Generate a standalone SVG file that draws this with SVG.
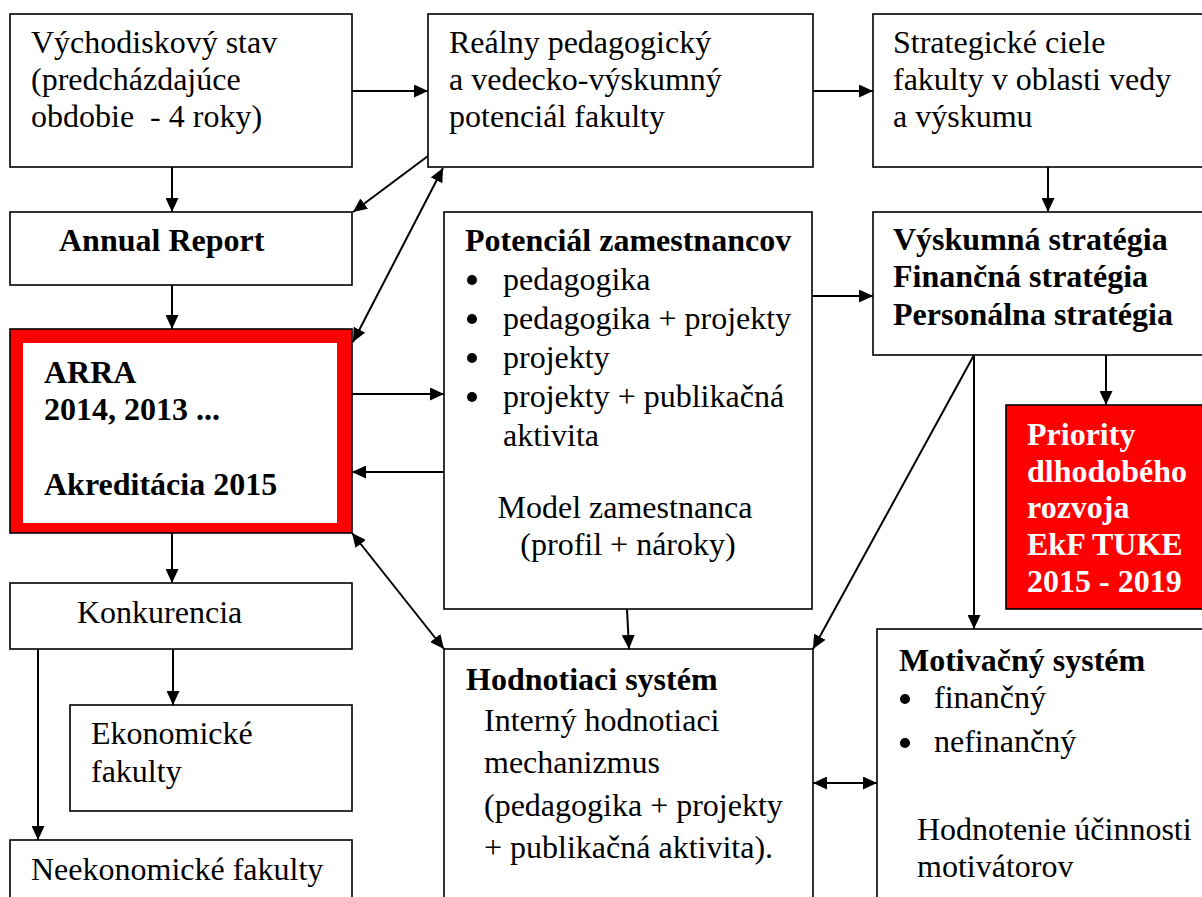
<svg xmlns="http://www.w3.org/2000/svg" width="1202" height="897" viewBox="0 0 1202 897">
<style>
  .box { fill: #ffffff; stroke: #000000; stroke-width: 1.6; }
  .red { fill: #ff0000; stroke: #000000; stroke-width: 1.6; }
  text { font-family: 'Liberation Serif', 'Times New Roman', 'DejaVu Serif', serif; font-size: 32px; fill: #000000; }
  .b { font-weight: bold; }
  .w { fill: #ffffff; }
  .c { text-anchor: middle; }
  .con { fill: none; stroke: #000000; stroke-width: 2; marker-end: url(#ah); }
  .dbl { marker-start: url(#ah); }
</style>
<defs>
  <marker id="ah" markerUnits="userSpaceOnUse" viewBox="0 0 14 13" refX="14" refY="6.5" markerWidth="14" markerHeight="13" orient="auto-start-reverse">
    <path d="M0,0 L14,6.5 L0,13 z" fill="#000000"/>
  </marker>
</defs>
<rect width="1202" height="897" fill="#ffffff"/>

<g id="vychodiskovy" font-family="Liberation Serif, serif">
  <rect class="box" x="10" y="14" width="342" height="153"/>
  <text x="31" y="53">Východiskový stav</text>
  <text x="31" y="90">(predcházdajúce</text>
  <text x="31" y="127" xml:space="preserve">obdobie  - 4 roky)</text>
</g>
<g id="realny">
  <rect class="box" x="428" y="14" width="385" height="153"/>
  <text x="449" y="53">Reálny pedagogický</text>
  <text x="449" y="90">a vedecko-výskumný</text>
  <text x="449" y="127">potenciál fakulty</text>
</g>
<g id="strategicke">
  <rect class="box" x="873" y="14" width="340" height="153"/>
  <text x="893" y="53">Strategické ciele</text>
  <text x="893" y="90">fakulty v oblasti vedy</text>
  <text x="893" y="127">a výskumu</text>
</g>
<g id="annual">
  <rect class="box" x="10" y="212" width="342" height="73"/>
  <text class="b" x="59" y="251">Annual Report</text>
</g>
<g id="arra">
  <rect class="red" x="10" y="329" width="342" height="204"/>
  <rect x="23" y="343" width="314" height="180" fill="#ffffff"/>
  <text class="b" x="44" y="383">ARRA</text>
  <text class="b" x="44" y="420">2014, 2013 ...</text>
  <text class="b" x="44" y="495">Akreditácia 2015</text>
</g>
<g id="konkurencia">
  <rect class="box" x="10" y="583" width="342" height="66"/>
  <text x="77" y="623">Konkurencia</text>
</g>
<g id="ekonomicke">
  <rect class="box" x="70" y="705" width="282" height="106"/>
  <text x="91" y="744">Ekonomické</text>
  <text x="91" y="782">fakulty</text>
</g>
<g id="neekonomicke">
  <rect class="box" x="10" y="840" width="342" height="70"/>
  <text x="31" y="880">Neekonomické fakulty</text>
</g>
<g id="potencial">
  <rect class="box" x="444" y="212" width="368" height="397"/>
  <text class="b" x="465" y="251">Potenciál zamestnancov</text>
  <circle cx="472" cy="280" r="5"/>
  <circle cx="472" cy="319" r="5"/>
  <circle cx="472" cy="358" r="5"/>
  <circle cx="472" cy="397" r="5"/>
  <text x="503" y="290">pedagogika</text>
  <text x="503" y="329">pedagogika + projekty</text>
  <text x="503" y="368">projekty</text>
  <text x="503" y="407">projekty + publikačná</text>
  <text x="503" y="446">aktivita</text>
  <text class="c" x="625" y="518">Model zamestnanca</text>
  <text class="c" x="628" y="555">(profil + nároky)</text>
</g>
<g id="vyskumna">
  <rect class="box" x="873" y="212" width="340" height="143"/>
  <text class="b" x="893" y="250">Výskumná stratégia</text>
  <text class="b" x="893" y="287">Finančná stratégia</text>
  <text class="b" x="893" y="325">Personálna stratégia</text>
</g>
<g id="priority">
  <rect class="red" x="1006" y="405" width="210" height="204"/>
  <text class="b w" x="1027" y="445">Priority</text>
  <text class="b w" x="1027" y="482">dlhodobého</text>
  <text class="b w" x="1027" y="518">rozvoja</text>
  <text class="b w" x="1027" y="555">EkF TUKE</text>
  <text class="b w" x="1027" y="592">2015 - 2019</text>
</g>
<g id="hodnotiaci">
  <rect class="box" x="444" y="649" width="369" height="270"/>
  <text class="b" x="466" y="690">Hodnotiaci systém</text>
  <text x="484" y="731">Interný hodnotiaci</text>
  <text x="484" y="773">mechanizmus</text>
  <text x="484" y="816">(pedagogika + projekty</text>
  <text x="484" y="858">+ publikačná aktivita).</text>
</g>
<g id="motivacny">
  <rect class="box" x="877" y="629" width="340" height="290"/>
  <text class="b" x="899" y="671">Motivačný systém</text>
  <circle cx="905" cy="699" r="5"/>
  <circle cx="905" cy="743" r="5"/>
  <text x="934" y="708">finančný</text>
  <text x="934" y="752">nefinančný</text>
  <text x="917" y="840">Hodnotenie účinnosti</text>
  <text x="917" y="877">motivátorov</text>
</g>

<g id="connectors">
  <path class="con" d="M352,91 H428"/>
  <path class="con" d="M813,91 H873"/>
  <path class="con" d="M172,167 V212"/>
  <path class="con" d="M172,285 V329"/>
  <path class="con" d="M428,156 L353,212"/>
  <path class="con dbl" d="M353,342 L443,168"/>
  <path class="con" d="M352,394 H444"/>
  <path class="con" d="M444,472 H352"/>
  <path class="con dbl" d="M352,533 L444,649"/>
  <path class="con" d="M172,533 V583"/>
  <path class="con" d="M173,649 V705"/>
  <path class="con" d="M38,649 V840"/>
  <path class="con" d="M812,296 H873"/>
  <path class="con" d="M627,609 L629,649"/>
  <path class="con" d="M1048,167 V212"/>
  <path class="con" d="M1106,355 V405"/>
  <path class="con" d="M974,355 V629"/>
  <path class="con" d="M974,355 L813,649"/>
  <path class="con dbl" d="M813,783 H877"/>
</g>
</svg>
